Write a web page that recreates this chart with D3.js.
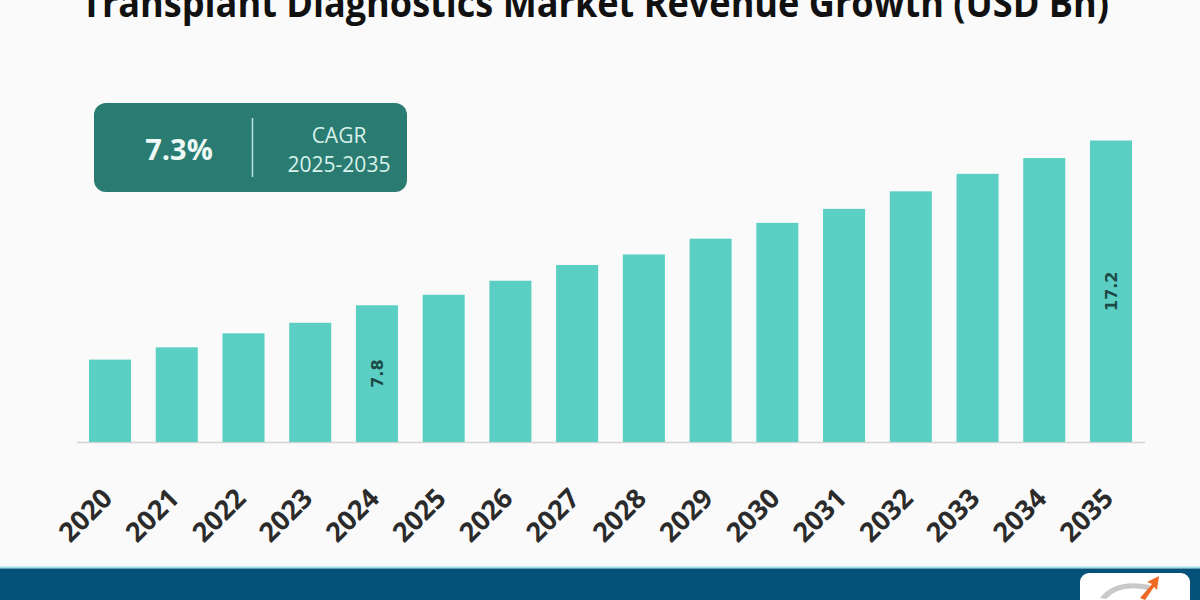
<!DOCTYPE html>
<html>
<head>
<meta charset="utf-8">
<script src="https://cdn.jsdelivr.net/npm/d3@7"></script>
<style>
  html, body { margin: 0; padding: 0; background: #fafafa; }
  svg { display: block; }
</style>
</head>
<body>
<div class="chart"></div>
<script>
// 資料
const years = ["2020", "2021", "2022", "2023", "2024", "2025", "2026", "2027",
  "2028", "2029", "2030", "2031", "2032", "2033", "2034", "2035"]
const revenue = [4.7, 5.4, 6.2, 6.8, 7.8, 8.4, 9.2, 10.1, 10.7, 11.6, 12.5, 13.3, 14.3, 15.3, 16.2, 17.2]
const labelled = ["2024", "2035"]
const titleText = "Transplant Diagnostics Market Revenue Growth (USD Bn)"
const cagrValue = "7.3%"
const cagrLines = ["CAGR", "2025-2035"]

function drawChart() {
  const svgWidth = 1200
  const svgHeight = 600
  const baseline = 442

  const svg = d3.select('.chart')
    .append('svg')
    .attr('width', svgWidth)
    .attr('height', svgHeight)

  svg.append('rect')
    .attr('width', svgWidth)
    .attr('height', svgHeight)
    .attr('fill', '#fafafa')

  // 標題 (上半被裁掉)
  svg.append('text')
    .attr('x', 81)
    .attr('y', 17)
    .attr('textLength', 1028)
    .attr('lengthAdjust', 'spacingAndGlyphs')
    .style('font-family', '"Open Sans", sans-serif')
    .style('font-weight', 700)
    .style('font-size', '40px')
    .attr('fill', '#111')
    .text(titleText)

  // X 軸
  const xScale = d3.scaleBand()
    .domain(years)
    .range([77, 1144])
    .paddingInner(0.37)
    .paddingOuter(0.18)

  // Y 軸
  const yScale = d3.scaleLinear()
    .domain([0, 17.2])
    .range([baseline, 140.5])

  // 底線
  svg.append('line')
    .attr('x1', 77)
    .attr('x2', 1145)
    .attr('y1', baseline + 0.5)
    .attr('y2', baseline + 0.5)
    .attr('stroke', '#d4d4d4')
    .attr('stroke-width', 1.5)

  // 長條
  svg.append('g')
    .selectAll('rect')
    .data(years)
    .enter()
    .append('rect')
    .attr('x', d => xScale(d))
    .attr('width', xScale.bandwidth())
    .attr('y', (d, i) => yScale(revenue[i]))
    .attr('height', (d, i) => baseline - yScale(revenue[i]))
    .attr('fill', '#5bcfc3')

  // 數值標籤
  svg.append('g')
    .selectAll('text')
    .data(years.filter(d => labelled.includes(d)))
    .enter()
    .append('text')
    .attr('transform', d => {
      const v = revenue[years.indexOf(d)]
      const cx = xScale(d) + xScale.bandwidth() / 2
      const cy = (yScale(v) + baseline) / 2
      return `translate(${cx}, ${cy}) rotate(-90)`
    })
    .attr('text-anchor', 'middle')
    .attr('dy', '0.35em')
    .style('font-family', '"DejaVu Sans", sans-serif')
    .style('font-weight', 700)
    .style('font-size', '16px')
    .attr('fill', '#1d4a46')
    .text(d => revenue[years.indexOf(d)].toFixed(1))

  // 年份標籤
  svg.append('g')
    .selectAll('text')
    .data(years)
    .enter()
    .append('text')
    .attr('transform', d => `translate(${xScale(d) + xScale.bandwidth() / 2 + 4}, 500) rotate(-45)`)
    .attr('text-anchor', 'end')
    .style('font-family', '"Open Sans", sans-serif')
    .style('font-weight', 700)
    .style('font-size', '27px')
    .attr('fill', '#2b2b2b')
    .text(d => d)

  // CAGR 方塊
  const box = svg.append('g')
  box.append('rect')
    .attr('x', 94)
    .attr('y', 103)
    .attr('width', 313)
    .attr('height', 89)
    .attr('rx', 12)
    .attr('fill', '#2a7b71')
  box.append('text')
    .attr('x', 179)
    .attr('y', 160)
    .attr('text-anchor', 'middle')
    .style('font-family', '"Open Sans", sans-serif')
    .style('font-weight', 700)
    .style('font-size', '29px')
    .attr('fill', '#eef9f6')
    .text(cagrValue)
  box.append('line')
    .attr('x1', 252.5)
    .attr('x2', 252.5)
    .attr('y1', 118)
    .attr('y2', 177)
    .attr('stroke', '#b9e6dd')
    .attr('stroke-width', 1.5)
  box.selectAll('.cagr')
    .data(cagrLines)
    .enter()
    .append('text')
    .attr('class', 'cagr')
    .attr('x', 339)
    .attr('y', (d, i) => 143 + i * 29)
    .attr('text-anchor', 'middle')
    .style('font-family', '"Open Sans", sans-serif')
    .style('font-size', '21px')
    .attr('fill', '#d7f1ea')
    .text(d => d)

  // 底部色帶
  svg.append('rect')
    .attr('x', 0)
    .attr('y', 566.5)
    .attr('width', svgWidth)
    .attr('height', 2)
    .attr('fill', '#9fdfe6')
  svg.append('rect')
    .attr('x', 0)
    .attr('y', 568.5)
    .attr('width', svgWidth)
    .attr('height', 32)
    .attr('fill', '#04527a')

  // logo
  const logo = svg.append('g')
  logo.append('rect')
    .attr('x', 1080)
    .attr('y', 573)
    .attr('width', 110)
    .attr('height', 40)
    .attr('rx', 9)
    .attr('fill', '#ffffff')
  logo.append('path')
    .attr('d', 'M1100,598 Q1115,578 1150,585 L1148,590 Q1120,584 1106,599 Z')
    .attr('fill', '#c9c9c9')
  logo.append('path')
    .attr('d', 'M1140,598 L1152,584 L1147,582 L1159,576 L1157,590 L1154,587 L1145,600 Z')
    .attr('fill', '#ee6a24')
}

drawChart()
</script>
</body>
</html>
